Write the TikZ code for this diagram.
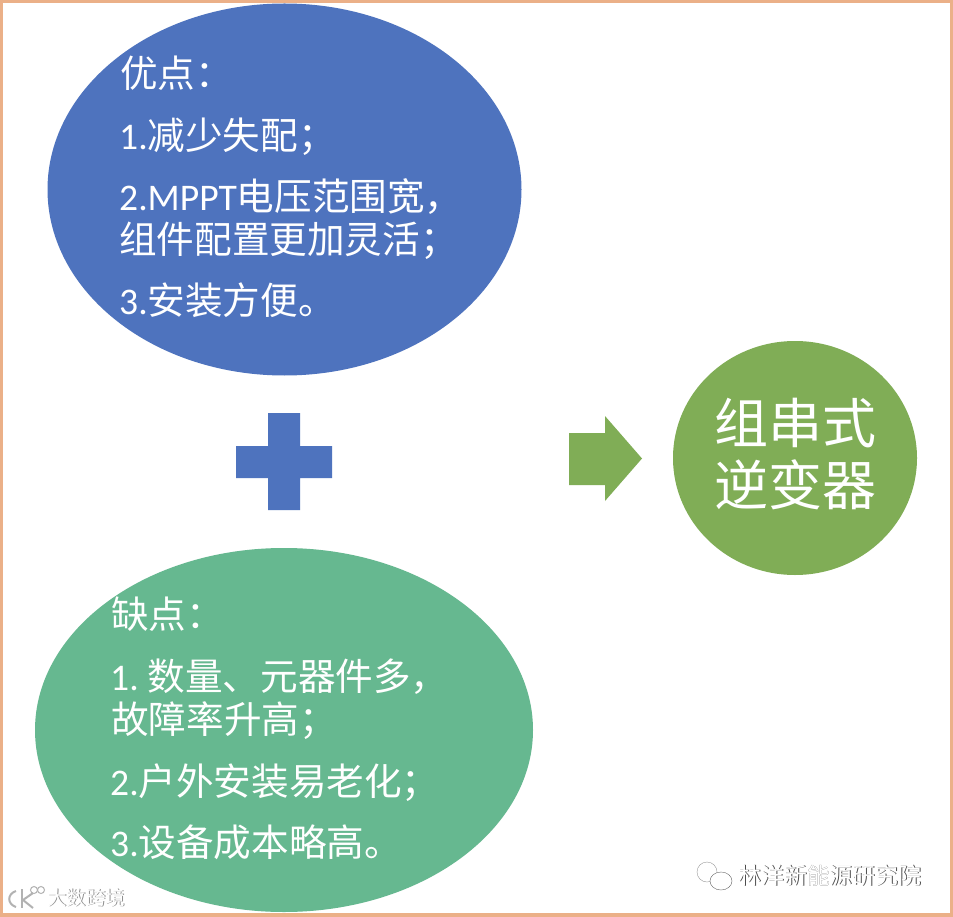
\documentclass[tikz,border=0pt]{standalone}
\usepackage{fontspec}
\setmainfont{Carlito}
\newfontfamily\cjk{Noto Sans CJK SC}
\usetikzlibrary{shapes.geometric}
\definecolor{edgeorange}{HTML}{EBB088}
\definecolor{problue}{HTML}{4E73BE}
\definecolor{congreen}{HTML}{66B890}
\definecolor{sumgreen}{HTML}{80AD56}
\tikzset{
  blob/.style={ellipse,inner sep=0pt},
  textline/.style={anchor=base west,inner sep=0pt,text=white,font=\fontsize{37.6}{37.6}\selectfont},
  title/.style={anchor=base,inner sep=0pt,text=white,font=\fontsize{54}{54}\selectfont\cjk},
  wmark/.style={anchor=base west,inner sep=0pt,font=\fontsize{22.8}{22.8}\selectfont\cjk},
  wmarkb/.style={anchor=base west,inner sep=0pt,font=\fontsize{19.5}{19.5}\selectfont\cjk},
}
\begin{document}
\begin{tikzpicture}[x=1pt,y=-1pt]
  \useasboundingbox (0,0) rectangle (953,917);
  \fill[white] (0,0) rectangle (953,917);

  % 边框
  \draw[edgeorange,line width=3.5pt] (1.5,1.5) rectangle (951.5,915);

  % 椭圆
  \node[blob,fill=problue,minimum width=474pt,minimum height=372pt] (pro) at (284.5,189.5) {};
  \node[blob,fill=congreen,minimum width=498pt,minimum height=364pt] (con) at (284,730) {};
  \node[blob,fill=sumgreen,minimum width=244pt,minimum height=234pt] (sum) at (795,458) {};

  % 优点
  \node[textline] (pro0) at (120,88) {\cjk 优点：};
  \node[textline] (pro1) at (119,150) {1.{\cjk 减少失配；}};
  \node[textline] (pro2) at (119,211) {2.MPPT{\cjk 电压范围宽，}};
  \node[textline] (pro3) at (119,254) {\cjk 组件配置更加灵活；};
  \node[textline] (pro4) at (119,315) {3.{\cjk 安装方便。}};

  % 缺点
  \node[textline] (con0) at (111,628) {\cjk 缺点：};
  \node[textline] (con1) at (110,690) {1.\hspace{9pt}{\cjk 数量、元器件多，}};
  \node[textline] (con2) at (111,733) {\cjk 故障率升高；};
  \node[textline] (con3) at (110,795) {2.{\cjk 户外安装易老化；}};
  \node[textline] (con4) at (110,856) {3.{\cjk 设备成本略高。}};

  % 结果
  \node[title] (sum1) at (795,443) {组串式};
  \node[title] (sum2) at (795,505) {逆变器};

  % 加号
  \fill[problue] (268,413) -- (300,413) -- (300,446) -- (332,446) -- (332,478) -- (300,478)
    -- (300,510) -- (268,510) -- (268,478) -- (236,478) -- (236,446) -- (268,446) -- cycle;

  % 箭头
  \fill[sumgreen] (569,433) -- (605,433) -- (605,416) -- (642,458.5) -- (605,501) -- (605,485)
    -- (569,485) -- cycle;

  % 水印
  \node[wmark,text=black!70] (wm1) at (739.3,884.8) {林洋新能源研究院};
  \node[wmark,text=white] (wm2) at (738.5,884) {林洋新能源研究院};
  \draw[black!40,fill=white] (707,872) ellipse (10 and 10);
  \draw[black!60,fill=white] (721,881) ellipse (11 and 9);
  \node[wmarkb,text=black!45] (wm3) at (47.8,905.8) {大数跨境};
  \node[wmarkb,text=white] (wm4) at (47,905) {大数跨境};
  \draw[black!30,line width=2pt] (16,891) .. controls (7,894) and (7,904) .. (16,907);
  \draw[black!30,line width=2pt] (22,889) -- (22,908);
  \draw[black!30,line width=2pt] (33,893) -- (23,900) -- (33,908);
  \draw[black!30,line width=1pt] (34,890) circle (3.5);
  \draw[black!30,line width=1pt] (41,890) circle (3.5);
\end{tikzpicture}
\end{document}
